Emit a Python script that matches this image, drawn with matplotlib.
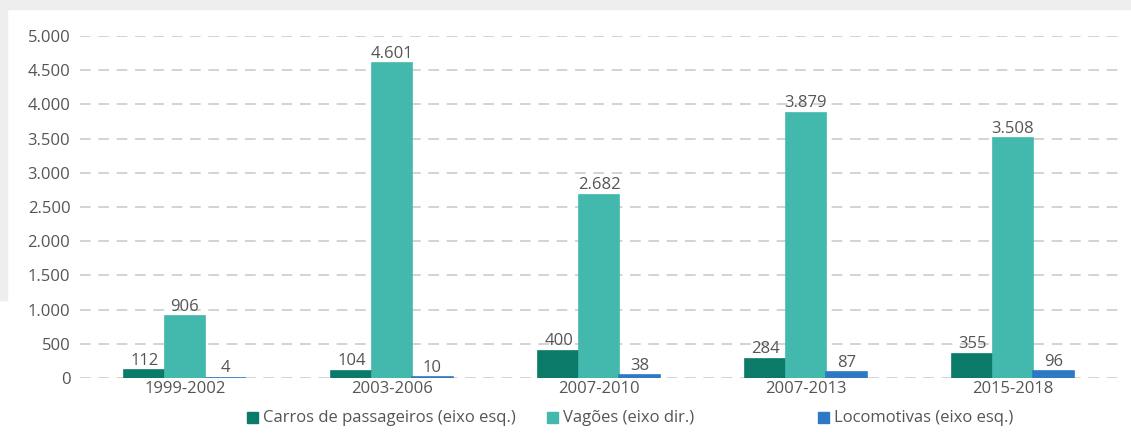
import numpy as np
import matplotlib.pyplot as plt
from matplotlib.patches import Rectangle

plt.rcParams['font.family'] = ['Open Sans', 'DejaVu Sans']

periods = ['1999-2002', '2003-2006', '2007-2010', '2007-2013', '2015-2018']
carros = [112, 104, 400, 284, 355]
vagoes = [906, 4601, 2682, 3879, 3508]
locomotivas = [4, 10, 38, 87, 96]
series_names = ['Carros de passageiros (eixo esq.)', 'Vagões (eixo dir.)',
                'Locomotivas (eixo esq.)']
colors = ['#0B7A68', '#43B8AD', '#2F78C4']
yticks = [0, 500, 1000, 1500, 2000, 2500, 3000, 3500, 4000, 4500, 5000]

txt = '#555555'

fig = plt.figure(figsize=(11.31, 4.33), dpi=100)
fig.patch.set_facecolor('white')
# grey screenshot margins
fig.add_artist(Rectangle((0, 1 - 9 / 433), 1, 9 / 433, transform=fig.transFigure,
                         color='#EEEEEF', zorder=0))
fig.add_artist(Rectangle((0, 1 - 300 / 433), 7 / 1131, 300 / 433, transform=fig.transFigure,
                         color='#EEEEEF', zorder=0))

ax = fig.add_axes([80 / 1131, 55 / 433, 1045 / 1131, 342 / 433])
ax.set_facecolor('none')

x = np.arange(len(periods))
w = 0.195
for k, (vals, col) in enumerate(zip([carros, vagoes, locomotivas], colors)):
    # thin outline in the bar colour so tiny values still show as a line
    bars = ax.bar(x + (k - 1) * w, vals, w, color=col, edgecolor=col,
                  linewidth=1.2, zorder=3)
    for b, v in zip(bars, vals):
        lab = f'{v:,}'.replace(',', '.')
        ax.annotate(lab, (b.get_x() + b.get_width() / 2, v), xytext=(0, 1),
                    textcoords='offset points', ha='center', va='bottom',
                    fontsize=12, color=txt, zorder=4)

ax.set_xlim(-0.507, 4.541)
ax.set_ylim(0, 5000)
ax.set_yticks(yticks)
ax.set_yticklabels([f'{t:,}'.replace(',', '.') for t in yticks])
ax.set_xticks(x)
ax.set_xticklabels(periods)
ax.tick_params(axis='both', length=0, labelsize=12, labelcolor=txt)
ax.tick_params(axis='y', pad=7)
ax.tick_params(axis='x', pad=2)
for s in ax.spines.values():
    s.set_visible(False)
ax.yaxis.grid(True, color='#C8C8C8', linestyle=(0, (7, 5)), linewidth=1.1, zorder=0)
ax.set_axisbelow(True)

# legend, placed by hand
leg_x = [247, 547, 818]
for px, name, col in zip(leg_x, series_names, colors):
    fig.add_artist(Rectangle((px / 1131, (433 - 423) / 433), 11 / 1131, 11 / 433,
                             transform=fig.transFigure, color=col))
    fig.text((px + 16) / 1131, (433 - 418) / 433, name, fontsize=12, color=txt,
             va='center', ha='left')

plt.savefig('out.png', dpi=100)
